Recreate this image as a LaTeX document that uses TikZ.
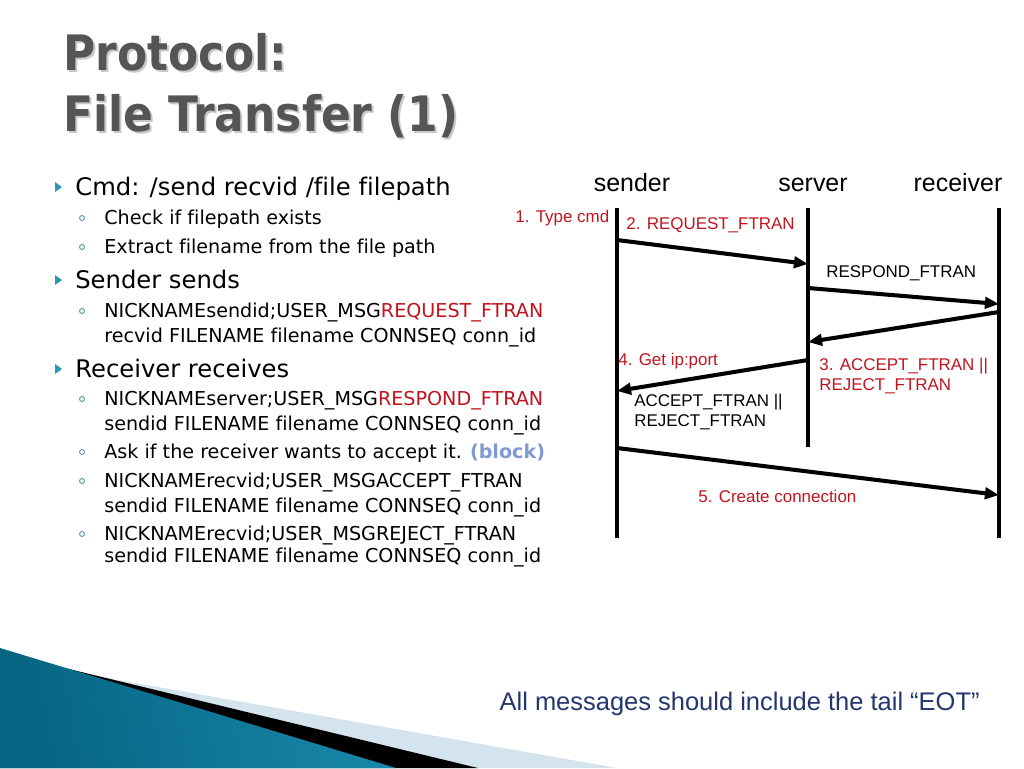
\documentclass[tikz,border=0pt]{standalone}
\usepackage{fontspec}
\setmainfont{DejaVu Sans}[Ligatures=NoCommon]
\newfontfamily\titulofont{DejaVu Sans Condensed}
\newfontfamily\helv{Liberation Sans}
\usetikzlibrary{arrows.meta,positioning}
\definecolor{gristitulo}{RGB}{85,85,85}
\definecolor{sombra}{RGB}{200,200,200}
\definecolor{rojo}{RGB}{192,20,30}
\definecolor{azulbloque}{RGB}{125,155,210}
\definecolor{vineta}{RGB}{45,150,180}
\definecolor{azulpie}{RGB}{35,55,110}
\definecolor{tealosc}{RGB}{5,100,130}
\definecolor{tealcla}{RGB}{80,175,210}
\definecolor{tealmed}{RGB}{25,135,170}
\definecolor{celeste}{RGB}{212,228,238}
\begin{document}
\begin{tikzpicture}[x=0.02cm, y=-0.02cm,
    titulo/.style={font=\titulofont\bfseries\fontsize{27.8}{34}\selectfont, inner sep=0pt, anchor=base west},
    principal/.style={font=\fontsize{13.8}{16}\selectfont, inner sep=0pt, anchor=base west},
    secundario/.style={font=\fontsize{10.9}{13}\selectfont, inner sep=0pt, anchor=base west},
    actor/.style={font=\helv\fontsize{14.2}{17}\selectfont, inner sep=0pt, anchor=base},
    etq/.style={font=\helv\fontsize{9.65}{11}\selectfont, inner sep=0pt, anchor=base west},
    vida/.style={line width=2.3pt},
    mensaje/.style={line width=2.3pt, -{Triangle[length=8pt,width=6.5pt]}}]
    \useasboundingbox (0,0) rectangle (1024,768);
    % Fondo inferior
    \fill[celeste] (90,675) -- (617,768) -- (0,768) -- cycle;
    \fill[black] (40,662) -- (478,768) -- (0,768) -- cycle;
    \shade[left color=tealosc, middle color=tealcla, right color=tealmed, shading angle=100] (0,648) -- (396,768) -- (0,768) -- cycle;
    % Titulo
    \node[titulo, sombra] at (65,72) {Protocol:};
    \node[titulo, sombra] at (65,133) {File Transfer (1)};
    \node[titulo, gristitulo] (tit1) at (63,70) {Protocol:};
    \node[titulo, gristitulo] (tit2) at (63,131) {File Transfer (1)};
    % Vinetas
    \foreach \b in {195,288,377}
        \fill[vineta] (55,\b-13) -- (62,\b-8) -- (55,\b-3) -- cycle;
    \foreach \b in {224,253,317,405,458,487,540}
        \draw[vineta!60!gray, line width=0.5pt] (82,\b-6) circle (1.4pt);
    % Texto
    \node[principal] (cmd) at (75,195) {Cmd: /send recvid /file filepath};
    \node[secundario] (chk) at (104,224) {Check if filepath exists};
    \node[secundario] (ext) at (104,253) {Extract filename from the file path};
    \node[principal] (snd) at (75,288) {Sender sends};
    \node[secundario] (req1) at (104,317) {NICKNAMEsendid;USER\_MSG\textcolor{rojo}{REQUEST\_FTRAN}};
    \node[secundario] (req2) at (104,342) {recvid FILENAME filename CONNSEQ conn\_id};
    \node[principal] (rcv) at (75,377) {Receiver receives};
    \node[secundario] (res1) at (104,405) {NICKNAMEserver;USER\_MSG\textcolor{rojo}{RESPOND\_FTRAN}};
    \node[secundario] (res2) at (104,430) {sendid FILENAME filename CONNSEQ conn\_id};
    \node[secundario] (ask) at (104,458) {Ask if the receiver wants to accept it. \textcolor{azulbloque}{\bfseries(block)}};
    \node[secundario] (acc1) at (104,487) {NICKNAMErecvid;USER\_MSGACCEPT\_FTRAN};
    \node[secundario] (acc2) at (104,512) {sendid FILENAME filename CONNSEQ conn\_id};
    \node[secundario] (rej1) at (104,540) {NICKNAMErecvid;USER\_MSGREJECT\_FTRAN};
    \node[secundario] (rej2) at (104,562) {sendid FILENAME filename CONNSEQ conn\_id};
    % Actores
    \node[actor] (sender) at (632,191) {sender};
    \node[actor] (server) at (813,191) {server};
    \node[actor] (receiver) at (958,191) {receiver};
    \coordinate (s0) at (617,208); \coordinate (s1) at (617,538);
    \coordinate (v0) at (808,208); \coordinate (v1) at (808,447);
    \coordinate (r0) at (999,208); \coordinate (r1) at (999,538);
    \draw[vida] (s0) -- (s1);
    \draw[vida] (v0) -- (v1);
    \draw[vida] (r0) -- (r1);
    % Mensajes
    \coordinate (m1a) at (617,240); \coordinate (m1b) at (808,264);
    \coordinate (m2a) at (808,288); \coordinate (m2b) at (999,304);
    \coordinate (m3a) at (999,312); \coordinate (m3b) at (808,342);
    \coordinate (m4a) at (808,360); \coordinate (m4b) at (617,391);
    \coordinate (m5a) at (617,448); \coordinate (m5b) at (999,495);
    \draw[mensaje] (m1a) -- (m1b);
    \draw[mensaje] (m2a) -- (m2b);
    \draw[mensaje] (m3a) -- (m3b);
    \draw[mensaje] (m4a) -- (m4b);
    \draw[mensaje] (m5a) -- (m5b);
    % Etiquetas
    \node[etq, rojo] (paso1) at (515,222) {1. Type cmd};
    \node[etq, rojo] (paso2) at (626,229) {2. REQUEST\_FTRAN};
    \node[etq] (resp) at (826,277) {RESPOND\_FTRAN};
    \node[etq, rojo] (paso4) at (618,365) {4. Get ip:port};
    \node[etq, rojo] (paso3a) at (819,370) {3. ACCEPT\_FTRAN ||};
    \node[etq, rojo] (paso3b) at (819,390) {REJECT\_FTRAN};
    \node[etq] (acca) at (634,406) {ACCEPT\_FTRAN ||};
    \node[etq] (accb) at (634,426) {REJECT\_FTRAN};
    \node[etq, rojo] (paso5) at (698,502) {5. Create connection};
    % Pie
    \node[font=\helv\fontsize{14.5}{17}\selectfont, azulpie, inner sep=0pt, anchor=base east] (pie) at (980,710) {All messages should include the tail “EOT”};
\end{tikzpicture}
\end{document}
